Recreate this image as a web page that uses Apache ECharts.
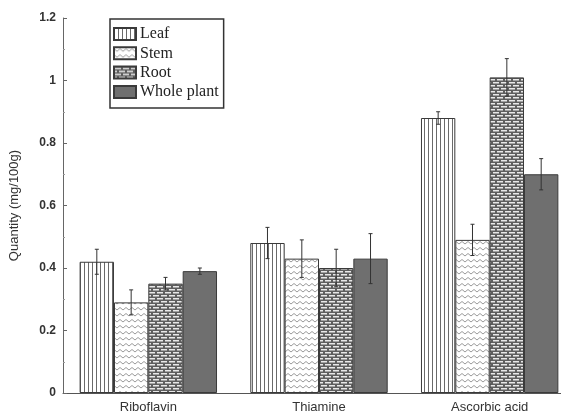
<!DOCTYPE html>
<html>
<head>
<meta charset="utf-8">
<script src="https://cdn.jsdelivr.net/npm/echarts@6/dist/echarts.min.js"></script>
<style>
  html, body { margin: 0; padding: 0; background: #fff; overflow: hidden; }
  #wrap { width: 561px; height: 414px; overflow: hidden; }
  #chart { width: 576px; height: 414px; }
</style>
</head>
<body>
<div id="wrap"><div id="chart"></div></div>
<script>
// Vitamin content by plant part (mg/100g), mean and standard deviation
const categories = ['Riboflavin', 'Thiamine', 'Ascorbic acid'];
const seriesNames = ['Leaf', 'Stem', 'Root', 'Whole plant'];
const leafValues = [0.42, 0.48, 0.88];
const leafErrors = [0.04, 0.05, 0.02];
const stemValues = [0.29, 0.43, 0.49];
const stemErrors = [0.04, 0.06, 0.05];
const rootValues = [0.35, 0.40, 1.01];
const rootErrors = [0.02, 0.06, 0.06];
const wholeValues = [0.39, 0.43, 0.70];
const wholeErrors = [0.01, 0.08, 0.05];
const yTicks = [0, 0.2, 0.4, 0.6, 0.8, 1, 1.2];

const allValues = [leafValues, stemValues, rootValues, wholeValues];
const allErrors = [leafErrors, stemErrors, rootErrors, wholeErrors];

// Hatch fills drawn on small canvases and tiled
function tile(w, h, draw) {
  const c = document.createElement('canvas');
  c.width = w; c.height = h;
  const ctx = c.getContext('2d');
  draw(ctx, w, h);
  return { image: c, repeat: 'repeat' };
}
const leafFill = tile(4, 4, (ctx, w, h) => {
  ctx.fillStyle = '#fff'; ctx.fillRect(0, 0, w, h);
  ctx.fillStyle = '#6a6a6a'; ctx.fillRect(0, 0, 1, h);
});
const stemFill = tile(6, 6, (ctx, w, h) => {
  ctx.fillStyle = '#fff'; ctx.fillRect(0, 0, w, h);
  ctx.strokeStyle = '#9a9a9a'; ctx.lineWidth = 1;
  ctx.beginPath();
  ctx.moveTo(0, 1.5); ctx.lineTo(3, 4); ctx.lineTo(6, 1.5);
  ctx.stroke();
});
const rootFill = tile(8, 6, (ctx, w, h) => {
  ctx.fillStyle = '#5e5e5e'; ctx.fillRect(0, 0, w, h);
  ctx.fillStyle = '#e8e8e8';
  ctx.fillRect(1, 1, 6, 1.5);
  ctx.fillRect(5, 4, 3, 1.5);
  ctx.fillRect(0, 4, 3, 1.5);
});
const wholeFill = '#6f6f6f';
const fills = [leafFill, stemFill, rootFill, wholeFill];

const catGap = 0.195;

const series = seriesNames.map((name, i) => ({
  name: name,
  type: 'bar',
  data: allValues[i],
  barGap: '0%',
  barCategoryGap: (catGap * 100) + '%',
  itemStyle: { color: fills[i], borderColor: '#3a3a3a', borderWidth: 1 },
  emphasis: { disabled: true },
  z: 2
}));

// Error bars, placed over the matching bar in each group
seriesNames.forEach((name, i) => {
  series.push({
    type: 'custom',
    name: name + ' SD',
    z: 5,
    silent: true,
    data: allValues[i].map((v, k) => [k, v, allErrors[i][k]]),
    renderItem: function (params, api) {
      const k = api.value(0), v = api.value(1), e = api.value(2);
      const band = api.size([1, 0])[0];
      const bw = band * (1 - catGap) / 4;
      const dx = (i - 1.5) * bw;
      const hi = api.coord([k, v + e]);
      const lo = api.coord([k, v - e]);
      const x = hi[0] + dx;
      const cap = 2;
      const style = { stroke: '#333', lineWidth: 1 };
      return {
        type: 'group',
        children: [
          { type: 'line', shape: { x1: x, y1: hi[1], x2: x, y2: lo[1] }, style: style },
          { type: 'line', shape: { x1: x - cap, y1: hi[1], x2: x + cap, y2: hi[1] }, style: style },
          { type: 'line', shape: { x1: x - cap, y1: lo[1], x2: x + cap, y2: lo[1] }, style: style }
        ]
      };
    }
  });
});

const chart = echarts.init(document.getElementById('chart'), null, { renderer: 'canvas' });
chart.setOption({
  animation: false,
  backgroundColor: '#fff',
  grid: { left: 61, right: 1, top: 18, bottom: 21, containLabel: false },
  legend: {
    data: seriesNames,
    orient: 'vertical',
    left: 110,
    top: 19,
    padding: [7, 5, 8, 3],
    itemWidth: 22,
    itemHeight: 12,
    itemGap: 3.3,
    icon: 'rect',
    borderColor: '#333',
    borderWidth: 1.5,
    backgroundColor: '#fff',
    textStyle: { fontFamily: 'Liberation Serif', fontSize: 16, color: '#222', padding: [0, 0, 0, -1] }
  },
  xAxis: {
    type: 'category',
    data: categories,
    axisLine: { lineStyle: { color: '#555', width: 1 } },
    axisTick: { show: false },
    axisLabel: { fontFamily: 'Liberation Sans', fontSize: 13, color: '#333', margin: 8 }
  },
  yAxis: {
    type: 'value',
    min: 0,
    max: 1.2,
    interval: 0.2,
    name: 'Quantity (mg/100g)',
    nameLocation: 'middle',
    nameGap: 42,
    nameTextStyle: { fontFamily: 'Liberation Sans', fontSize: 13, color: '#333' },
    axisLine: { show: true, lineStyle: { color: '#666', width: 1 } },
    axisTick: { show: true, inside: true, length: 4, lineStyle: { color: '#666' } },
    minorTick: { show: true, splitNumber: 2, length: 2, lineStyle: { color: '#999' } },
    splitLine: { show: false },
    axisLabel: {
      fontFamily: 'Liberation Sans', fontSize: 12, color: '#333', fontWeight: 'bold', margin: 7,
      formatter: v => {
        const t = yTicks.find(t => Math.abs(t - v) < 1e-9);
        return t === undefined ? '' : String(t);
      }
    }
  },
  series: series
});
</script>
</body>
</html>
